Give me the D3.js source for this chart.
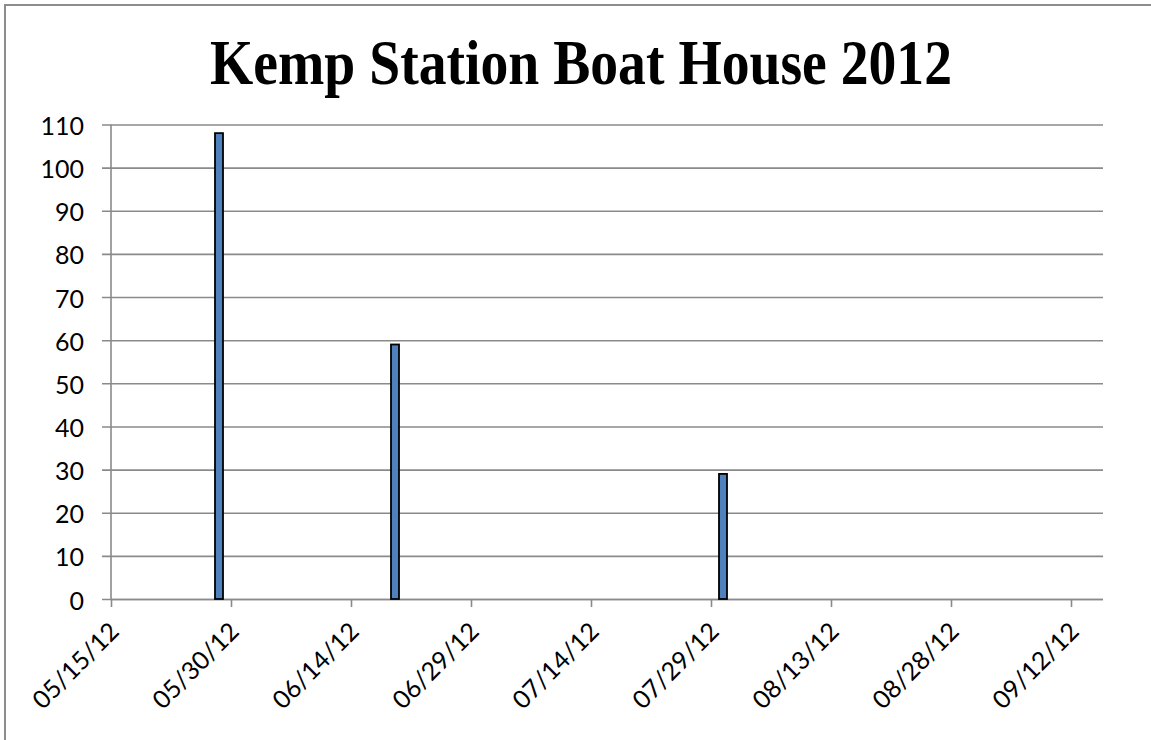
<!DOCTYPE html>
<html>
<head>
<meta charset="utf-8">
<script src="https://cdn.jsdelivr.net/npm/d3@7"></script>
<style>
  html, body { margin: 0; padding: 0; background: #fff; }
  svg { display: block; }
</style>
</head>
<body>
<svg id="chart" width="1151" height="740"></svg>
<script>
// ---- data ----
const title = "Kemp Station Boat House 2012";
const barDates = ["2012-05-28", "2012-06-19", "2012-07-30"];
const barValues = [108, 59, 29];
const xTickLabels = ["05/15/12", "05/30/12", "06/14/12", "06/29/12", "07/14/12", "07/29/12", "08/13/12", "08/28/12", "09/12/12"];
const yTickValues = [0, 10, 20, 30, 40, 50, 60, 70, 80, 90, 100, 110];
const xDomain = ["2012-05-15", "2012-09-16"];

// ---- drawing ----
(function () {
const svg = d3.select("#chart");
const parseISO = d3.utcParse("%Y-%m-%d");
const parseLabel = d3.utcParse("%m/%d/%y");
const fmt = d3.utcFormat("%m/%d/%y");

const pLeft = 111, pRight = 1103, pTop = 124.5, pBottom = 599;
const x = d3.scaleUtc().domain(xDomain.map(parseISO)).range([pLeft, pRight]);
const y = d3.scaleLinear().domain([0, 110]).range([pBottom, pTop]);

const gray = "#8a8a8a";
const labelFont = "Lato, 'Open Sans', 'Liberation Sans', sans-serif";

// outer border
svg.append("path")
  .attr("d", "M5,745 L5,5 L1160,5")
  .attr("fill", "none").attr("stroke", "#8c8c8c").attr("stroke-width", 2);

// title
svg.append("text")
  .attr("x", 210).attr("y", 84)
  .attr("font-family", "'Liberation Serif', 'DejaVu Serif', serif")
  .attr("font-weight", "bold")
  .attr("font-size", 64)
  .attr("textLength", 742)
  .attr("lengthAdjust", "spacingAndGlyphs")
  .attr("fill", "#000")
  .text(title);

// y axis with gridlines
const yAxis = d3.axisLeft(y)
  .tickValues(yTickValues)
  .tickSize(-(pRight - pLeft))
  .tickPadding(0)
  .tickFormat(d3.format("d"));
const gy = svg.append("g").attr("transform", `translate(${pLeft},0)`).call(yAxis);
gy.select(".domain").remove();
gy.selectAll(".tick line")
  .attr("x1", -9).attr("x2", pRight - pLeft)
  .attr("stroke", gray).attr("stroke-width", 1.6);
gy.selectAll(".tick text")
  .attr("x", -27).attr("dy", "0.4em")
  .attr("font-family", labelFont).attr("font-size", 25)
  .attr("fill", "#000");

// y axis line
svg.append("line")
  .attr("x1", pLeft).attr("x2", pLeft).attr("y1", pTop).attr("y2", pBottom)
  .attr("stroke", gray).attr("stroke-width", 1.6);

// x axis
const xTicks = xTickLabels.map(parseLabel);
const xAxis = d3.axisBottom(x)
  .tickValues(xTicks)
  .tickSize(8)
  .tickFormat(fmt);
const gx = svg.append("g").attr("transform", `translate(0,${pBottom})`).call(xAxis);
gx.select(".domain").attr("stroke", gray).attr("stroke-width", 1.6)
  .attr("d", `M${pLeft},0.5H${pRight}`);
gx.selectAll(".tick line").attr("stroke", gray).attr("stroke-width", 1.6);
gx.selectAll(".tick text")
  .attr("font-family", labelFont).attr("font-size", 25)
  .attr("fill", "#000")
  .attr("text-anchor", "end")
  .attr("dy", 0).attr("y", 0)
  .attr("transform", "translate(9,34) rotate(-45)");

// bars
const bars = barDates.map((d, i) => ({ date: parseISO(d), value: barValues[i] }));
svg.append("g").selectAll("rect")
  .data(bars)
  .join("rect")
  .attr("x", d => x(d.date))
  .attr("width", d => x(d3.utcDay.offset(d.date, 1)) - x(d.date))
  .attr("y", d => y(d.value))
  .attr("height", d => y(0) - y(d.value))
  .attr("fill", "#4f81bd")
  .attr("stroke", "#000")
  .attr("stroke-width", 1.8);
})();
</script>
</body>
</html>
